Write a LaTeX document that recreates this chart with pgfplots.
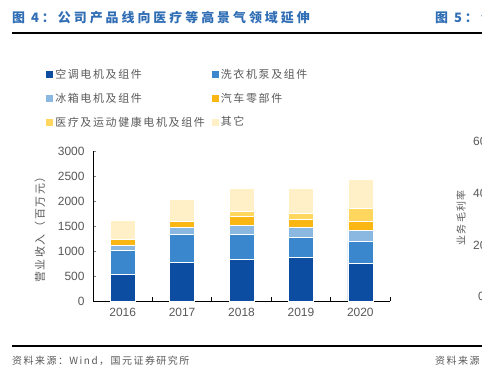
\documentclass[border=0pt]{standalone}
\usepackage{fontspec}
\usepackage{pgfplots}
\usepackage{pgfplotstable}
\pgfplotsset{compat=1.18}
\setmainfont{Liberation Sans}
\newfontfamily\cjkleg[LetterSpace=15]{Noto Sans CJK SC}
\newfontfamily\cjktitle[LetterSpace=23]{Noto Sans CJK SC}
\definecolor{cA}{HTML}{0C4DA2}
\definecolor{cB}{HTML}{3A87CE}
\definecolor{cC}{HTML}{8AB8E1}
\definecolor{cD}{HTML}{FAB714}
\definecolor{cE}{HTML}{FFD75F}
\definecolor{cF}{HTML}{FFF0C8}
\definecolor{titleblue}{HTML}{2F6DB5}
\definecolor{tgray}{HTML}{595959}
\pgfplotstableread{
x d b l o y c
0 527 493 100 120 0 380
1 780 553 134 133 0 427
2 827 513 180 173 107 460
3 867 413 193 167 120 500
4 760 433 227 173 267 573
}\data
\begin{document}
\begin{tikzpicture}[x=1bp,y=1bp]
\fill[white] (0,0) rectangle (482,378);
\useasboundingbox (0,0) rectangle (482,378);
% header and footer
\node[anchor=west, inner sep=0pt, text=titleblue, font=\cjktitle\bfseries\fontsize{13}{13}\selectfont] at (12,360) {图 4：公司产品线向医疗等高景气领域延伸};
\node[anchor=west, inner sep=0pt, text=titleblue, font=\cjktitle\bfseries\fontsize{13}{13}\selectfont] at (435,360) {图 5：公司业务毛利率};
\draw[line width=1.5bp] (12,345) -- (482,345);
\draw[line width=1.5bp] (12,32) -- (482,32);
\node[anchor=west, inner sep=0pt, text=tgray, font=\cjkleg\fontsize{10}{10}\selectfont] at (12,17) {资料来源：Wind，国元证券研究所};
\node[anchor=west, inner sep=0pt, text=tgray, font=\cjkleg\fontsize{10}{10}\selectfont] at (435,17) {资料来源：国元证券研究所};
% partial neighbour chart
\node[anchor=west, inner sep=0pt, text=tgray, font=\fontsize{12}{12}\selectfont] at (473,237) {60};
\node[anchor=west, inner sep=0pt, text=tgray, font=\fontsize{12}{12}\selectfont] at (473,185) {40};
\node[anchor=west, inner sep=0pt, text=tgray, font=\fontsize{12}{12}\selectfont] at (473,133) {20};
\node[anchor=west, inner sep=0pt, text=tgray, font=\fontsize{12}{12}\selectfont] at (478,82) {0};
\node[rotate=90, inner sep=0pt, text=tgray, font=\cjkleg\fontsize{10}{10}\selectfont] at (461,160) {业务毛利率};
% y label
\node[rotate=90, inner sep=0pt, text=tgray, font=\cjkleg\fontsize{11}{11}\selectfont] at (40,151) {营业收入（百万元）};
\begin{axis}[
  at={(93bp,77bp)}, anchor=south west,
  scale only axis, width=297bp, height=150bp,
  ybar stacked, bar width=25bp,
  xmin=-0.5, xmax=4.5, ymin=0, ymax=3000,
  ytick={0,500,...,3000},
  xtick={0,1,2,3,4},
  xticklabels={2016,2017,2018,2019,2020},
  minor xtick={-0.5,0.5,1.5,2.5,3.5,4.5},
  major x tick style={draw=none},
  minor x tick style={black, line width=0.8bp},
  minor tick length=4bp,
  major tick length=3bp,
  tick align=inside,
  axis x line*=bottom, axis y line*=left,
  axis line style={black, line width=0.9bp},
  tick label style={font=\fontsize{12}{12}\selectfont, text=tgray},
  /pgf/number format/assume math mode=true,
  /pgf/number format/1000 sep={},
  yticklabel style={xshift=-5bp},
  xticklabel style={yshift=-4bp},
  legend columns=2,
  legend cell align=left,
  legend style={at={(-0.158,1.56)}, anchor=north west, draw=none, fill=none,
    font=\cjkleg\fontsize{11}{11}\selectfont, text=tgray, inner sep=0pt,
    row sep=9bp,
    /tikz/every even column/.append style={column sep=5bp}},
  legend image code/.code={\fill[#1,draw=none] (0bp,-3.5bp) rectangle (7bp,3.5bp);},
  every axis plot/.append style={draw=white, line width=0.5bp},
]
\addplot[fill=cA] table[x=x,y=d]{\data};
\addplot[fill=cB] table[x=x,y=b]{\data};
\addplot[fill=cC] table[x=x,y=l]{\data};
\addplot[fill=cD] table[x=x,y=o]{\data};
\addplot[fill=cE] table[x=x,y=y]{\data};
\addplot[fill=cF] table[x=x,y=c]{\data};
\legend{空调电机及组件,洗衣机泵及组件,冰箱电机及组件,汽车零部件,医疗及运动健康电机及组件,其它}
\end{axis}
\end{tikzpicture}
\end{document}
